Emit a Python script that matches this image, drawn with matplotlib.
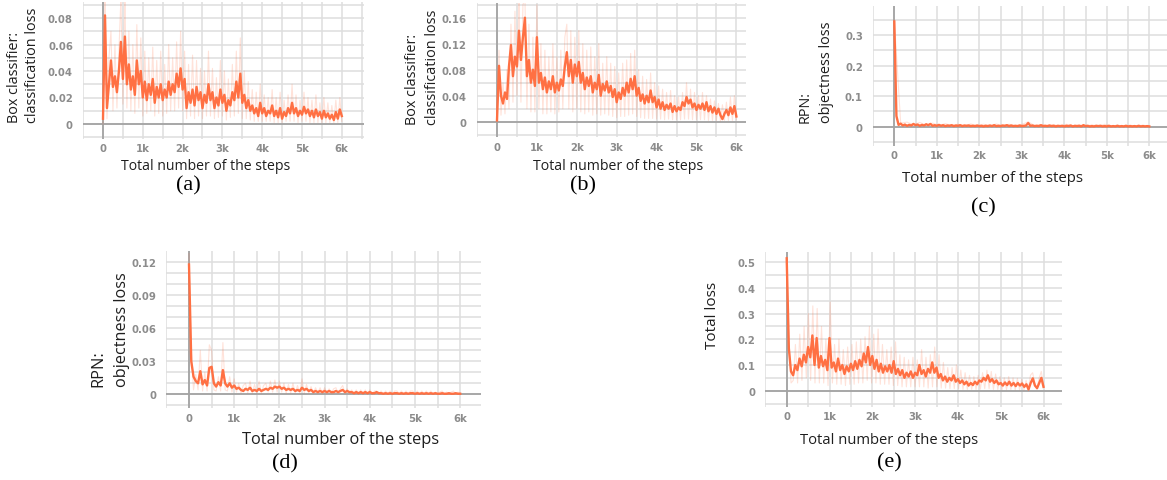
import numpy as np
import matplotlib
matplotlib.use("Agg")
import matplotlib.pyplot as plt

W, H = 1167, 481
LINE = "#ff7043"
GRID = "#dedede"
ZERO = "#a3a3a3"
TICK = "#8c8c8c"

# (a) box classifier: classification loss, values every 50 steps from 0 to 6k
a_loss = [0.004, 0.082, 0.012, 0.030, 0.048, 0.028, 0.036, 0.024, 0.040, 0.062,
          0.034, 0.066, 0.030, 0.045, 0.026, 0.036, 0.022, 0.048, 0.030, 0.040,
          0.020, 0.032, 0.018, 0.030, 0.022, 0.034, 0.016, 0.028, 0.020, 0.030,
          0.018, 0.026, 0.020, 0.032, 0.022, 0.030, 0.024, 0.038, 0.028, 0.042,
          0.026, 0.034, 0.012, 0.024, 0.016, 0.026, 0.014, 0.028, 0.018, 0.024,
          0.012, 0.022, 0.016, 0.030, 0.018, 0.024, 0.012, 0.020, 0.014, 0.026,
          0.016, 0.022, 0.010, 0.018, 0.014, 0.024, 0.018, 0.032, 0.020, 0.038,
          0.016, 0.022, 0.012, 0.018, 0.010, 0.014, 0.008, 0.012, 0.006, 0.016,
          0.008, 0.012, 0.006, 0.010, 0.008, 0.014, 0.006, 0.010, 0.005, 0.012,
          0.004, 0.009, 0.006, 0.012, 0.008, 0.016, 0.008, 0.012, 0.006, 0.010,
          0.007, 0.013, 0.008, 0.011, 0.006, 0.010, 0.005, 0.011, 0.006, 0.009,
          0.004, 0.010, 0.005, 0.008, 0.004, 0.007, 0.003, 0.009, 0.004, 0.011,
          0.006]
a_raw = [0.000, 0.095, 0.004, 0.050, 0.070, 0.010, 0.060, 0.012, 0.055, 0.095,
         0.015, 0.095, 0.012, 0.070, 0.010, 0.060, 0.008, 0.075, 0.012, 0.065,
         0.006, 0.055, 0.008, 0.050, 0.010, 0.058, 0.006, 0.048, 0.008, 0.055,
         0.006, 0.045, 0.008, 0.060, 0.010, 0.050, 0.010, 0.062, 0.012, 0.070,
         0.010, 0.055, 0.004, 0.045, 0.006, 0.052, 0.004, 0.048, 0.006, 0.042,
         0.004, 0.040, 0.006, 0.055, 0.006, 0.042, 0.004, 0.035, 0.005, 0.048,
         0.006, 0.040, 0.003, 0.034, 0.005, 0.045, 0.006, 0.055, 0.008, 0.065,
         0.004, 0.040, 0.004, 0.032, 0.003, 0.026, 0.002, 0.024, 0.002, 0.030,
         0.002, 0.022, 0.002, 0.020, 0.002, 0.026, 0.001, 0.020, 0.001, 0.024,
         0.001, 0.018, 0.002, 0.022, 0.002, 0.030, 0.002, 0.022, 0.001, 0.018,
         0.002, 0.024, 0.002, 0.020, 0.001, 0.018, 0.001, 0.022, 0.001, 0.016,
         0.001, 0.020, 0.001, 0.016, 0.001, 0.014, 0.001, 0.018, 0.001, 0.020,
         0.002]

# (b) box classifier: classification loss (second run)
b_loss = [0.002, 0.086, 0.040, 0.028, 0.045, 0.035, 0.085, 0.118, 0.070, 0.100,
          0.085, 0.140, 0.095, 0.130, 0.160, 0.070, 0.095, 0.060, 0.080, 0.055,
          0.130, 0.060, 0.075, 0.050, 0.068, 0.045, 0.062, 0.050, 0.070, 0.045,
          0.060, 0.048, 0.065, 0.055, 0.085, 0.107, 0.070, 0.095, 0.060, 0.088,
          0.070, 0.092, 0.060, 0.075, 0.050, 0.068, 0.055, 0.070, 0.045, 0.060,
          0.050, 0.072, 0.040, 0.058, 0.048, 0.062, 0.045, 0.055, 0.038, 0.050,
          0.030, 0.045, 0.035, 0.052, 0.040, 0.060, 0.045, 0.066, 0.050, 0.070,
          0.040, 0.052, 0.032, 0.042, 0.028, 0.040, 0.030, 0.048, 0.030, 0.038,
          0.022, 0.034, 0.020, 0.030, 0.018, 0.026, 0.020, 0.028, 0.015, 0.024,
          0.016, 0.022, 0.018, 0.030, 0.024, 0.038, 0.028, 0.034, 0.022, 0.028,
          0.018, 0.026, 0.020, 0.028, 0.018, 0.030, 0.016, 0.024, 0.014, 0.022,
          0.012, 0.020, 0.010, 0.004, 0.012, 0.018, 0.010, 0.022, 0.012, 0.024,
          0.008]
b_raw = [0.000, 0.110, 0.010, 0.060, 0.012, 0.080, 0.020, 0.150, 0.030, 0.170,
         0.040, 0.190, 0.030, 0.180, 0.190, 0.020, 0.150, 0.015, 0.130, 0.015,
         0.180, 0.020, 0.120, 0.012, 0.110, 0.012, 0.100, 0.015, 0.120, 0.012,
         0.100, 0.015, 0.110, 0.020, 0.130, 0.150, 0.020, 0.140, 0.015, 0.130,
         0.020, 0.140, 0.015, 0.120, 0.012, 0.110, 0.015, 0.115, 0.010, 0.100,
         0.012, 0.120, 0.010, 0.090, 0.012, 0.100, 0.010, 0.090, 0.008, 0.085,
         0.006, 0.075, 0.008, 0.090, 0.008, 0.095, 0.010, 0.105, 0.012, 0.110,
         0.008, 0.080, 0.006, 0.070, 0.005, 0.065, 0.005, 0.075, 0.005, 0.060,
         0.004, 0.055, 0.004, 0.050, 0.003, 0.045, 0.004, 0.048, 0.003, 0.040,
         0.003, 0.038, 0.003, 0.045, 0.004, 0.060, 0.004, 0.050, 0.003, 0.045,
         0.003, 0.040, 0.003, 0.045, 0.003, 0.040, 0.002, 0.035, 0.002, 0.032,
         0.002, 0.028, 0.001, 0.026, 0.002, 0.030, 0.002, 0.038, 0.002, 0.040,
         0.003]

# (c) RPN: objectness loss
c_loss = [0.345, 0.035, 0.006, 0.010, 0.004, 0.007, 0.003, 0.006, 0.004, 0.009,
          0.005, 0.007, 0.003, 0.006, 0.004, 0.008, 0.005, 0.009, 0.003, 0.005,
          0.003, 0.006, 0.003, 0.005, 0.002, 0.004, 0.003, 0.005, 0.002, 0.004,
          0.003, 0.005, 0.002, 0.004, 0.003, 0.004, 0.002, 0.003, 0.002, 0.004,
          0.002, 0.003, 0.001, 0.003, 0.002, 0.004, 0.002, 0.005, 0.002, 0.003,
          0.002, 0.004, 0.003, 0.005, 0.002, 0.004, 0.002, 0.003, 0.002, 0.004,
          0.002, 0.003, 0.004, 0.012, 0.003, 0.004, 0.002, 0.003, 0.002, 0.005,
          0.002, 0.003, 0.002, 0.004, 0.002, 0.003, 0.001, 0.003, 0.002, 0.003,
          0.001, 0.003, 0.002, 0.004, 0.001, 0.003, 0.002, 0.003, 0.001, 0.005,
          0.002, 0.003, 0.001, 0.002, 0.001, 0.003, 0.002, 0.003, 0.001, 0.002,
          0.001, 0.003, 0.001, 0.002, 0.001, 0.003, 0.001, 0.002, 0.001, 0.003,
          0.001, 0.002, 0.001, 0.002, 0.001, 0.003, 0.001, 0.002, 0.001, 0.002,
          0.001]
c_raw = [0.350, 0.012, 0.015, 0.006, 0.014, 0.005, 0.012, 0.004, 0.010, 0.004,
         0.008, 0.003, 0.009, 0.003, 0.008, 0.003, 0.009, 0.003, 0.008, 0.003,
         0.007, 0.016, 0.004, 0.007, 0.003, 0.007, 0.002, 0.008, 0.002, 0.006,
         0.002, 0.006, 0.002, 0.008, 0.002, 0.005, 0.002, 0.005, 0.002, 0.005,
         0.002]

# (d) RPN: objectness loss (second run)
d_loss = [0.118, 0.030, 0.016, 0.012, 0.010, 0.021, 0.009, 0.013, 0.008, 0.024,
          0.025, 0.010, 0.007, 0.011, 0.008, 0.022, 0.010, 0.007, 0.010, 0.006,
          0.008, 0.005, 0.006, 0.004, 0.003, 0.005, 0.004, 0.006, 0.003, 0.004,
          0.003, 0.005, 0.003, 0.004, 0.005, 0.004, 0.006, 0.005, 0.007, 0.006,
          0.007, 0.005, 0.006, 0.004, 0.005, 0.004, 0.005, 0.003, 0.004, 0.003,
          0.006, 0.004, 0.005, 0.003, 0.004, 0.002, 0.003, 0.002, 0.003, 0.002,
          0.003, 0.002, 0.003, 0.002, 0.002, 0.003, 0.002, 0.003, 0.004, 0.002,
          0.003, 0.002, 0.002, 0.001, 0.002, 0.001, 0.002, 0.001, 0.002, 0.001,
          0.002, 0.001, 0.001, 0.002, 0.001, 0.001, 0.0005, 0.001, 0.0005, 0.001,
          0.0005, 0.001, 0.001, 0.0005, 0.001, 0.0005, 0.001, 0.0005, 0.001, 0.001,
          0.0005, 0.001, 0.0005, 0.001, 0.0005, 0.001, 0.0005, 0.001, 0.0005, 0.001,
          0.0005, 0.0005, 0.001, 0.0005, 0.0005, 0.001, 0.0005, 0.0005, 0.001, 0.0005,
          0.0005]
d_raw = [0.128, 0.040, 0.004, 0.018, 0.004, 0.040, 0.003, 0.020, 0.003, 0.045,
         0.040, 0.004, 0.003, 0.016, 0.003, 0.047, 0.004, 0.003, 0.016, 0.002,
         0.014, 0.002, 0.010, 0.001, 0.008, 0.010, 0.001, 0.012, 0.001, 0.009,
         0.001, 0.012, 0.001, 0.008, 0.010, 0.002, 0.012, 0.002, 0.013, 0.002,
         0.012, 0.002, 0.010, 0.001, 0.009, 0.001, 0.010, 0.001, 0.008, 0.001,
         0.014, 0.001, 0.009, 0.001, 0.007, 0.001, 0.006, 0.001, 0.006, 0.001,
         0.006, 0.001, 0.005, 0.001, 0.005, 0.006, 0.001, 0.005, 0.008, 0.001,
         0.005, 0.001, 0.004, 0.000, 0.004, 0.000, 0.004, 0.000, 0.004, 0.000,
         0.004, 0.000, 0.003, 0.003, 0.000, 0.003, 0.000, 0.003, 0.000, 0.003,
         0.000, 0.003, 0.003, 0.000, 0.003, 0.000, 0.003, 0.000, 0.003, 0.003,
         0.000, 0.003, 0.000, 0.003, 0.000, 0.003, 0.000, 0.003, 0.000, 0.002,
         0.000, 0.002, 0.003, 0.000, 0.002, 0.000, 0.002, 0.003, 0.000, 0.002,
         0.001]

# (e) total loss
e_loss = [0.515, 0.165, 0.075, 0.060, 0.100, 0.080, 0.125, 0.095, 0.140, 0.110,
          0.170, 0.130, 0.215, 0.100, 0.205, 0.090, 0.135, 0.095, 0.120, 0.080,
          0.205, 0.090, 0.110, 0.075, 0.125, 0.080, 0.100, 0.065, 0.095, 0.075,
          0.105, 0.080, 0.115, 0.085, 0.120, 0.095, 0.145, 0.110, 0.170, 0.100,
          0.135, 0.085, 0.120, 0.075, 0.105, 0.070, 0.095, 0.075, 0.100, 0.070,
          0.115, 0.065, 0.085, 0.060, 0.080, 0.050, 0.070, 0.055, 0.075, 0.050,
          0.070, 0.060, 0.100, 0.065, 0.080, 0.055, 0.085, 0.070, 0.110, 0.070,
          0.090, 0.050, 0.065, 0.040, 0.055, 0.035, 0.050, 0.040, 0.060, 0.035,
          0.045, 0.030, 0.040, 0.025, 0.035, 0.020, 0.030, 0.022, 0.035, 0.025,
          0.040, 0.035, 0.050, 0.040, 0.060, 0.035, 0.045, 0.030, 0.040, 0.025,
          0.030, 0.020, 0.032, 0.022, 0.035, 0.020, 0.030, 0.018, 0.030, 0.020,
          0.028, 0.015, 0.025, 0.005, 0.030, 0.048, 0.020, 0.010, 0.030, 0.050,
          0.015]
e_raw = [0.520, 0.200, 0.030, 0.040, 0.180, 0.030, 0.220, 0.040, 0.250, 0.050,
         0.300, 0.040, 0.330, 0.030, 0.320, 0.030, 0.250, 0.030, 0.200, 0.020,
         0.345, 0.030, 0.180, 0.025, 0.200, 0.025, 0.160, 0.020, 0.170, 0.025,
         0.180, 0.025, 0.190, 0.030, 0.200, 0.030, 0.210, 0.040, 0.250, 0.030,
         0.220, 0.030, 0.240, 0.025, 0.180, 0.025, 0.160, 0.025, 0.170, 0.020,
         0.190, 0.020, 0.140, 0.015, 0.130, 0.015, 0.120, 0.015, 0.130, 0.015,
         0.120, 0.015, 0.160, 0.015, 0.130, 0.010, 0.140, 0.015, 0.170, 0.015,
         0.140, 0.010, 0.110, 0.010, 0.090, 0.008, 0.090, 0.008, 0.100, 0.008,
         0.080, 0.005, 0.070, 0.005, 0.060, 0.005, 0.055, 0.005, 0.060, 0.006,
         0.070, 0.008, 0.080, 0.008, 0.075, 0.005, 0.065, 0.005, 0.055, 0.004,
         0.050, 0.004, 0.055, 0.004, 0.050, 0.003, 0.048, 0.003, 0.045, 0.002,
         0.040, 0.002, 0.060, 0.070, 0.030, 0.005, 0.050, 0.075, 0.020]

step_ticks = [0, 1000, 2000, 3000, 4000, 5000, 6000]
step_labels = ["0", "1k", "2k", "3k", "4k", "5k", "6k"]

fig = plt.figure(figsize=(W / 100, H / 100), dpi=100)


def panel(loss, raw, x0, kpx, xlim, y0, upx, ylim, hgrid, yticks, ylabels):
    # place the axes so data pixels line up with the reference image
    left = x0 + xlim[0] / 1000 * kpx
    right = x0 + xlim[1] / 1000 * kpx
    top = y0 - ylim[1] * upx
    bot = y0 - ylim[0] * upx
    ax = fig.add_axes([left / W, 1 - bot / H, (right - left) / W, (bot - top) / H])
    ax.set_xlim(*xlim)
    ax.set_ylim(*ylim)
    for s in ax.spines.values():
        s.set_visible(False)
    for v in np.arange(-500, 7000, 500):
        ax.axvline(v, color=GRID, lw=1.1, zorder=0)
    for h in hgrid:
        ax.axhline(h, color=GRID, lw=1.1, zorder=0)
    ax.axhline(0, color=ZERO, lw=1.3, zorder=1)
    ax.axvline(0, color=ZERO, lw=1.3, zorder=1)
    ax.plot(np.linspace(0, 6000, len(raw)), raw, color=LINE, lw=0.8, alpha=0.2, zorder=2)
    ax.plot(np.linspace(0, 6000, len(loss)), loss, color=LINE, lw=1.7, zorder=3)
    ax.set_xticks(step_ticks)
    ax.set_xticklabels(step_labels)
    ax.set_yticks(yticks)
    ax.set_yticklabels(ylabels)
    ax.tick_params(length=0, labelsize=7.3, labelcolor=TICK)
    ax.tick_params(axis="x", pad=3.5)
    ax.tick_params(axis="y", pad=7)
    for t in ax.get_xticklabels() + ax.get_yticklabels():
        t.set_fontweight("bold")
    return ax


panel(a_loss, a_raw, 103, 39.8, (-510, 6560), 125, 1325, (-0.011, 0.092),
      np.arange(-0.01, 0.095, 0.01), [0, 0.02, 0.04, 0.06, 0.08],
      ["0", "0.02", "0.04", "0.06", "0.08"])
panel(b_loss, b_raw, 497, 39.9, (-510, 6250), 122.7, 650, (-0.024, 0.182),
      np.arange(-0.02, 0.185, 0.02), [0, 0.04, 0.08, 0.12, 0.16],
      ["0", "0.04", "0.08", "0.12", "0.16"])
panel(c_loss, c_raw, 894.3, 42.5, (-510, 6420), 127.7, 305, (-0.062, 0.395),
      np.arange(-0.05, 0.36, 0.05), [0, 0.1, 0.2, 0.3],
      ["0", "0.1", "0.2", "0.3"])
panel(d_loss, d_raw, 189, 45.2, (-510, 6450), 395.3, 1100, (-0.0125, 0.13),
      np.arange(-0.01, 0.125, 0.01), [0, 0.03, 0.06, 0.09, 0.12],
      ["0", "0.03", "0.06", "0.09", "0.12"])
panel(e_loss, e_raw, 786.7, 42.8, (-510, 6430), 391.7, 257, (-0.062, 0.54),
      np.arange(-0.05, 0.51, 0.05), [0, 0.1, 0.2, 0.3, 0.4, 0.5],
      ["0", "0.1", "0.2", "0.3", "0.4", "0.5"])

SANS = "Open Sans"
LAB = "#1e1e1e"


def ftext(x, y, s, **kw):
    fig.text(x / W, 1 - y / H, s, **kw)


# x axis titles
for x, y, size in [(206, 166, 10.1), (618, 166, 10.2), (992, 178, 10.8),
                   (341, 440, 11.8), (889, 441, 10.6)]:
    ftext(x, y, "Total number of the steps", ha="center", va="center",
          family=SANS, size=size, color=LAB)

# y axis titles (rotated, bottom aligned)
ylab = [(15, 123, "Box classifier:", 10.4), (33, 123, "classification loss", 10.4),
        (413, 125, "Box classifier:", 10.4), (433, 125, "classification loss", 10.4),
        (805, 123, "RPN:", 10.4), (827, 123, "objectness loss", 10.4),
        (98, 387, "RPN:", 11.7), (122, 387, "objectness loss", 11.7)]
for x, y, s, size in ylab:
    ftext(x, y, s, rotation=90, ha="center", va="bottom", family=SANS,
          size=size, color=LAB)
ftext(712, 315, "Total loss", rotation=90, ha="center", va="center",
      family=SANS, size=11, color=LAB)

# panel captions
for x, y, s in [(188, 186, "(a)"), (583, 186, "(b)"), (983, 208, "(c)"),
                (285, 464, "(d)"), (889, 463, "(e)")]:
    ftext(x, y, s, ha="center", va="center", family="Liberation Serif",
          size=16, color="black")

fig.savefig("out.png", dpi=100)
